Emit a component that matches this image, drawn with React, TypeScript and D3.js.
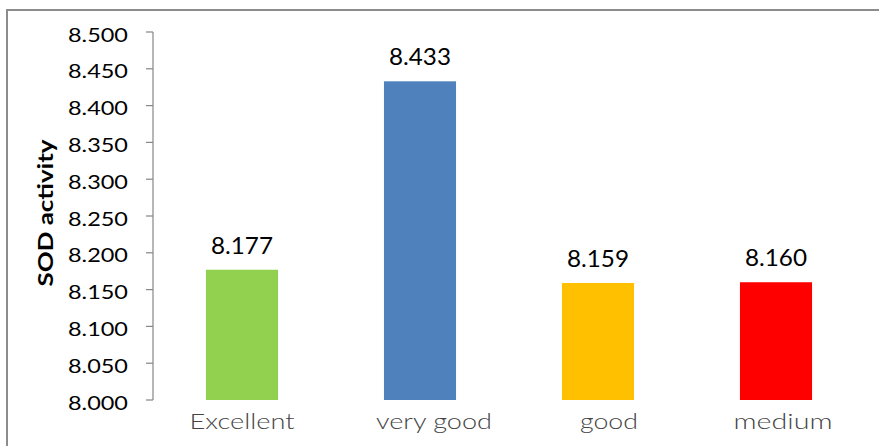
import React from "react";
import * as d3 from "d3";

const categories = ["Excellent", "very good", "good", "medium"];
const values = [8.177, 8.433, 8.159, 8.16];
const valueLabels = ["8.177", "8.433", "8.159", "8.160"];
const barColors = ["#92D050", "#4F81BD", "#FFC000", "#FF0000"];
const yTicks = [8.0, 8.05, 8.1, 8.15, 8.2, 8.25, 8.3, 8.35, 8.4, 8.45, 8.5];
const catLabelWidths = [105, 116, 58, 99];
const catLabelOffsets = [0, 14, 11, 7];

const W = 879;
const H = 446;
const plot = { left: 153, right: 865, top: 32, bottom: 400 };

export default function App() {
  const x = d3
    .scaleBand<string>()
    .domain(categories)
    .range([plot.left, plot.right])
    .paddingInner(0.595)
    .paddingOuter(0.2975);
  const y = d3.scaleLinear().domain([8.0, 8.5]).range([plot.bottom, plot.top]);
  const font = "Lato, 'Open Sans', sans-serif";

  return (
    <svg
      width={W}
      height={H}
      style={{ position: "absolute", left: 0, top: 0, background: "#fff" }}
    >
      <rect x={0} y={0} width={W} height={H} fill="#fff" />
      {/* chart border */}
      <rect
        x={7}
        y={10}
        width={W + 10}
        height={H + 10}
        fill="none"
        stroke="#8c8c8c"
        strokeWidth={2}
      />
      {/* y axis */}
      <line
        x1={plot.left}
        x2={plot.left}
        y1={y(8.5)}
        y2={y(8.0)}
        stroke="#868686"
        strokeWidth={1.2}
      />
      {yTicks.map((t) => (
        <g key={t}>
          <line
            x1={plot.left - 7}
            x2={plot.left}
            y1={y(t)}
            y2={y(t)}
            stroke="#868686"
            strokeWidth={1.2}
          />
          <text
            x={128}
            y={y(t) + 9.5}
            textAnchor="end"
            fontFamily={font}
            fontSize={18.5}
            fill="#000"
            textLength={60}
            lengthAdjust="spacingAndGlyphs"
          >
            {t.toFixed(3)}
          </text>
        </g>
      ))}
      {/* bars */}
      {categories.map((c, i) => (
        <rect
          key={c}
          x={x(c)}
          y={y(values[i])}
          width={x.bandwidth()}
          height={y(8.0) - y(values[i])}
          fill={barColors[i]}
        />
      ))}
      {/* value labels */}
      {categories.map((c, i) => (
        <text
          key={c + "v"}
          x={(x(c) as number) + x.bandwidth() / 2}
          y={y(values[i]) - 16}
          textAnchor="middle"
          fontFamily={font}
          fontSize={23}
          fill="#000"
          textLength={62}
          lengthAdjust="spacingAndGlyphs"
        >
          {valueLabels[i]}
        </text>
      ))}
      {/* category labels */}
      {categories.map((c, i) => (
        <text
          key={c + "c"}
          x={(x(c) as number) + x.bandwidth() / 2 + catLabelOffsets[i]}
          y={429}
          textAnchor="middle"
          fontFamily={font}
          fontSize={21}
          fontWeight={300}
          fill="#444"
          textLength={catLabelWidths[i]}
          lengthAdjust="spacingAndGlyphs"
        >
          {c}
        </text>
      ))}
      {/* y axis title */}
      <text
        transform={`translate(53, ${(plot.top + plot.bottom) / 2 - 3}) rotate(-90)`}
        textAnchor="middle"
        fontFamily={font}
        fontWeight="bold"
        fontSize={20}
        fill="#000"
        textLength={147}
        lengthAdjust="spacingAndGlyphs"
      >
        SOD activity
      </text>
    </svg>
  );
}
